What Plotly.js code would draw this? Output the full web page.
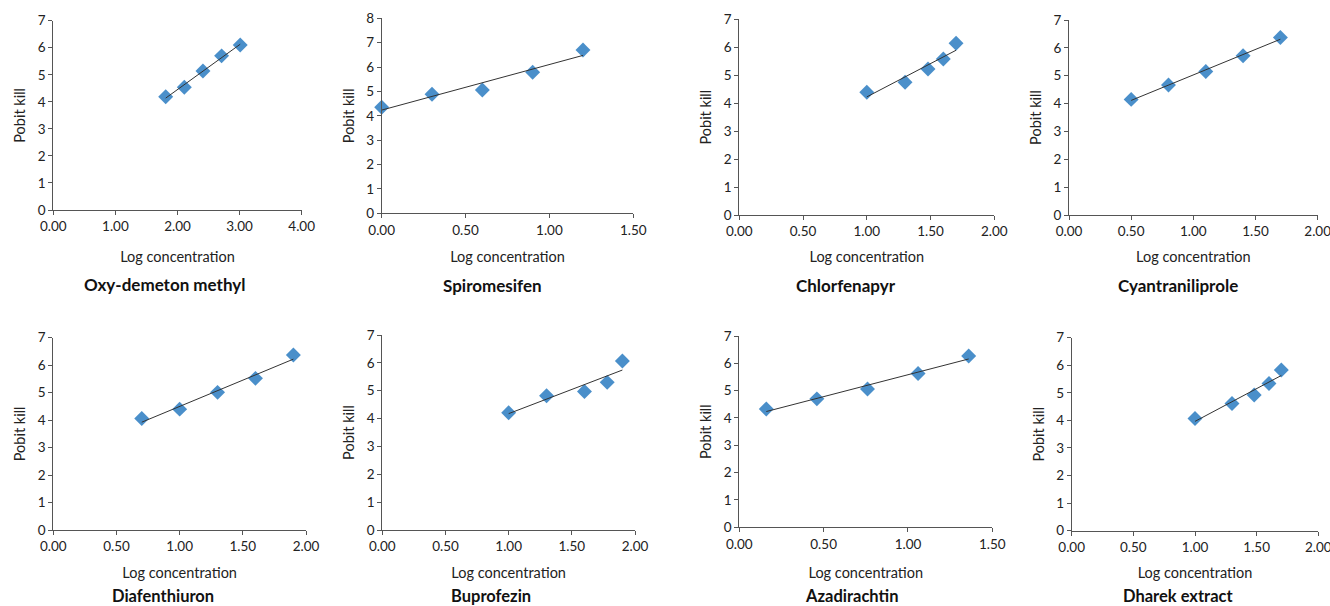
<!DOCTYPE html>
<html>
<head>
<meta charset="utf-8">
<script src="https://cdn.plot.ly/plotly-3.0.1.min.js"></script>
<style>html,body{margin:0;padding:0;background:#fff;}#chart{width:1330px;height:606px;}</style>
</head>
<body>
<div id="chart"></div>
<script>
// ---- Data ----
const compoundNames = ['Oxy-demeton methyl','Spiromesifen','Chlorfenapyr','Cyantraniliprole',
                       'Diafenthiuron','Buprofezin','Azadirachtin','Dharek extract'];

const oxyDemetonLogConc = [1.81, 2.11, 2.41, 2.71, 3.01];
const oxyDemetonPobit   = [4.19, 4.54, 5.14, 5.70, 6.10];

const spiromesifenLogConc = [0.00, 0.30, 0.60, 0.90, 1.20];
const spiromesifenPobit   = [4.35, 4.88, 5.06, 5.79, 6.70];

const chlorfenapyrLogConc = [1.00, 1.30, 1.48, 1.60, 1.70];
const chlorfenapyrPobit   = [4.39, 4.75, 5.22, 5.58, 6.14];

const cyantraniliproleLogConc = [0.50, 0.80, 1.10, 1.40, 1.70];
const cyantraniliprolePobit   = [4.15, 4.67, 5.15, 5.72, 6.37];

const diafenthiuronLogConc = [0.70, 1.00, 1.30, 1.60, 1.90];
const diafenthiuronPobit   = [4.06, 4.40, 5.01, 5.52, 6.37];

const buprofezinLogConc = [1.00, 1.30, 1.60, 1.78, 1.90];
const buprofezinPobit   = [4.21, 4.82, 4.97, 5.30, 6.07];

const azadirachtinLogConc = [0.16, 0.46, 0.76, 1.06, 1.36];
const azadirachtinPobit   = [4.33, 4.70, 5.06, 5.63, 6.27];

const dharekLogConc = [1.00, 1.30, 1.48, 1.60, 1.70];
const dharekPobit   = [4.07, 4.61, 4.92, 5.34, 5.83];

const xAxisMax = [4, 1.5, 2, 2, 2, 2, 1.5, 2];
const xAxisStep = [1, 0.5, 0.5, 0.5, 0.5, 0.5, 0.5, 0.5];
const yAxisMax = [7, 8, 7, 7, 7, 7, 7, 7];

const xTitle = 'Log concentration';
const yTitle = 'Pobit kill';

// ---- Build ----
const series = [
  [oxyDemetonLogConc, oxyDemetonPobit],
  [spiromesifenLogConc, spiromesifenPobit],
  [chlorfenapyrLogConc, chlorfenapyrPobit],
  [cyantraniliproleLogConc, cyantraniliprolePobit],
  [diafenthiuronLogConc, diafenthiuronPobit],
  [buprofezinLogConc, buprofezinPobit],
  [azadirachtinLogConc, azadirachtinPobit],
  [dharekLogConc, dharekPobit]
];

// plot-area boxes in pixels [x0, x1, y0(top), y1(bottom)]
const W = 1330, H = 606;
const boxes = [
  [53.3, 301.7, 20.7, 210],
  [381.7, 633.3, 18.3, 213.3],
  [739.3, 994.3, 19.3, 215],
  [1069, 1317.7, 20, 215],
  [53.3, 306, 337.7, 530],
  [382.3, 635, 335, 530],
  [739.3, 992.3, 336, 527.3],
  [1071.7, 1318.3, 337.7, 530.7]
];
const xTitleRowY = [256, 256, 256, 256, 572, 572, 572, 572];
const nameCenters = [[164, 284], [492, 285], [846, 285], [1178, 285],
                     [163, 596], [491, 596], [851, 596], [1178, 596]];

function regress(x, y) {
  const n = x.length;
  const mx = x.reduce((a, b) => a + b, 0) / n;
  const my = y.reduce((a, b) => a + b, 0) / n;
  let sxy = 0, sxx = 0;
  for (let i = 0; i < n; i++) { sxy += (x[i] - mx) * (y[i] - my); sxx += (x[i] - mx) ** 2; }
  const b = sxy / sxx;
  return [b, my - b * mx];
}

const FONT = 'Lato, "Open Sans", sans-serif';
const traces = [];
const layout = {
  width: W, height: H,
  margin: {l: 0, r: 0, t: 0, b: 0},
  paper_bgcolor: '#fff', plot_bgcolor: '#fff',
  showlegend: false,
  font: {family: FONT, size: 13.5, color: '#222'},
  annotations: []
};

series.forEach((s, i) => {
  const k = i === 0 ? '' : String(i + 1);
  const xa = 'x' + k, ya = 'y' + k;
  const [x, y] = s;
  traces.push({
    type: 'scatter', mode: 'markers', x: x, y: y, xaxis: xa, yaxis: ya,
    marker: {symbol: 'diamond', size: 11.5, color: '#4a8fca', line: {width: 0}},
    cliponaxis: false, hoverinfo: 'x+y'
  });
  const [b, a] = regress(x, y);
  const xmin = Math.min(...x), xmax = Math.max(...x);
  traces.push({
    type: 'scatter', mode: 'lines', x: [xmin, xmax], y: [a + b * xmin, a + b * xmax],
    xaxis: xa, yaxis: ya, line: {color: '#333', width: 1}, cliponaxis: false, hoverinfo: 'skip'
  });
  const bx = boxes[i];
  layout['xaxis' + k] = {
    domain: [bx[0] / W, bx[1] / W], anchor: ya,
    range: [0, xAxisMax[i]], dtick: xAxisStep[i], tick0: 0, tickformat: '.2f',
    showgrid: false, zeroline: false, showline: true, linecolor: '#555', linewidth: 1,
    ticks: 'outside', ticklen: 4, tickcolor: '#555',
    ticklabeloverflow: 'allow',
    tickfont: {size: 13.5, color: '#222'},
    title: {text: xTitle, font: {size: 14.5, color: '#222'}, standoff: xTitleRowY[i] - bx[3] - 28},
    fixedrange: true
  };
  layout['yaxis' + k] = {
    domain: [1 - bx[3] / H, 1 - bx[2] / H], anchor: xa,
    range: [0, yAxisMax[i]], dtick: 1, tick0: 0,
    showgrid: false, zeroline: false, showline: true, linecolor: '#555', linewidth: 1,
    ticks: 'outside', ticklen: 4, tickcolor: '#555',
    tickfont: {size: 13.5, color: '#222'},
    title: {text: yTitle, font: {size: 14.5, color: '#222'}, standoff: 8},
    fixedrange: true
  };
  layout.annotations.push({
    text: '<b>' + compoundNames[i] + '</b>', xref: 'paper', yref: 'paper',
    x: nameCenters[i][0] / W, y: 1 - nameCenters[i][1] / H,
    xanchor: 'center', yanchor: 'middle', showarrow: false, borderpad: 0,
    font: {family: FONT, size: i < 4 ? 17 : 16.5, color: '#111'}
  });
});

Plotly.newPlot('chart', traces, layout, {displayModeBar: false, staticPlot: true});
</script>
</body>
</html>
